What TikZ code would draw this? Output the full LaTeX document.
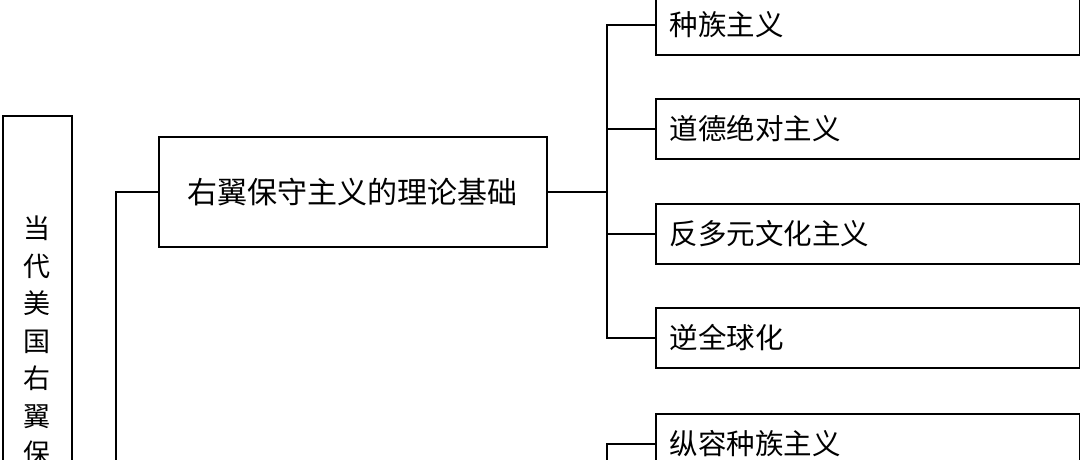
\documentclass[tikz,border=0pt]{standalone}
\usepackage{fontspec}
\newfontfamily\cjk{Noto Sans CJK SC}
\begin{document}
\begin{tikzpicture}[x=1pt,y=-1pt,
  every node/.style={font=\cjk},
  line/.style={line width=1.8pt},
  box/.style={draw, line width=1.8pt, inner ysep=0pt, anchor=north west},
  leaf/.style={box, text width=396pt, inner xsep=14pt, minimum height=60pt, align=left, font=\cjk\fontsize{28.5}{30}\selectfont},
]
\useasboundingbox[fill=white] (0,0) rectangle (1080,459);
% left vertical title box
\node[box, minimum width=69pt, minimum height=600pt, inner sep=0pt] (root) at (2,115) {};
\node[anchor=north, inner sep=0pt, align=center, font=\cjk\fontsize{27}{37.5}\selectfont] (roottext) at (37,216) {当\\代\\美\\国\\右\\翼\\保};
% middle box
\node[box, minimum width=388pt, minimum height=110pt, inner sep=0pt, font=\cjk\fontsize{30}{32}\selectfont] (mid) at (158,136) {右翼保守主义的理论基础};
% leaf boxes
\node[leaf] (b1) at (655,-6) {种族主义};
\node[leaf] (b2) at (655,98) {道德绝对主义};
\node[leaf] (b3) at (655,203) {反多元文化主义};
\node[leaf] (b4) at (655,307) {逆全球化};
\node[leaf] (b5) at (655,413) {纵容种族主义};
% connectors
\coordinate (t1) at (116,540);
\draw[line] (t1) |- (mid.west);
\coordinate (j1) at (607,191);
\draw[line] (mid.east) -- (mid.east -| j1);
\draw[line] (b1.west) -| (j1);
\draw[line] (b2.west) -| (j1);
\draw[line] (b3.west) -| (j1);
\draw[line] (b4.west) -| (j1);
\coordinate (t2) at (607,540);
\draw[line] (t2) |- (b5.west);
\end{tikzpicture}
\end{document}
